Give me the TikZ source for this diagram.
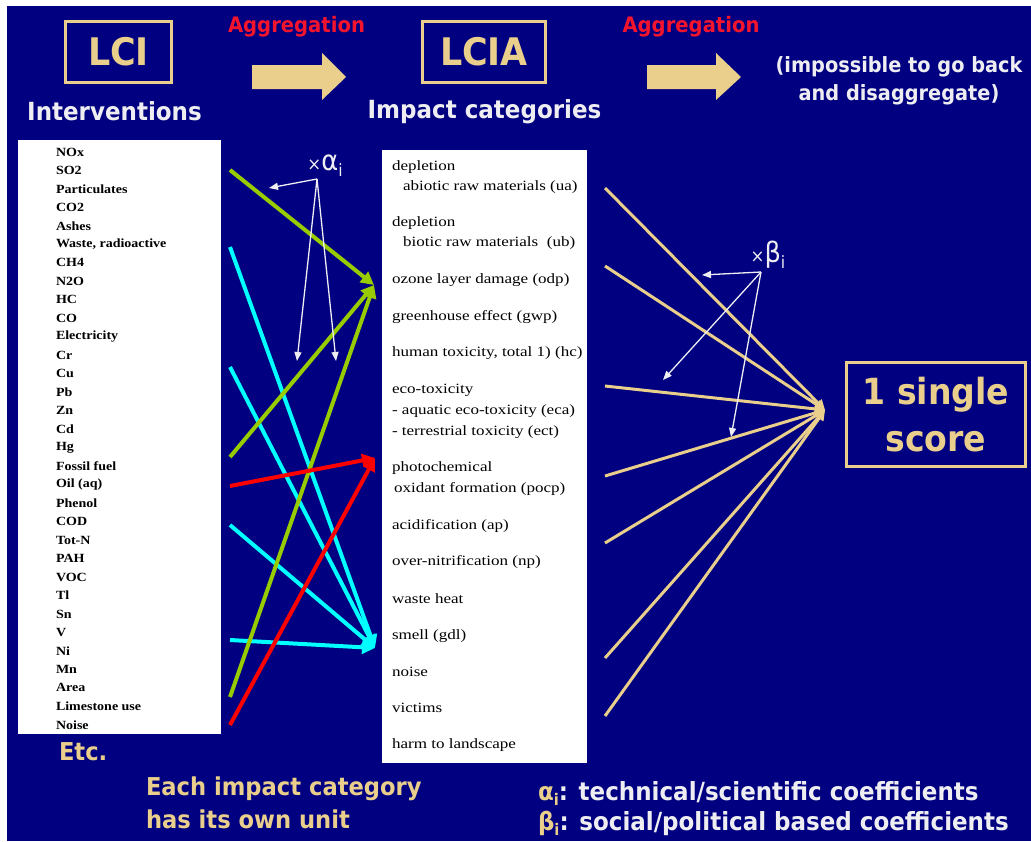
\documentclass[tikz,border=0pt]{standalone}
\usepackage{fontspec}
\usetikzlibrary{arrows.meta}
\setmainfont{Liberation Serif}
\newfontfamily\tah{DejaVu Sans}[FakeStretch=0.92]
\newfontfamily\scanb{Liberation Serif}[FakeStretch=1.12]
\newfontfamily\scanr{Liberation Serif}[FakeStretch=1.2]
\definecolor{navy}{HTML}{000080}
\definecolor{gold}{HTML}{E9CF8B}
\definecolor{wtext}{HTML}{EEEEF2}
\definecolor{redtxt}{HTML}{F5142D}
\definecolor{lgreen}{HTML}{99CC00}
\definecolor{lcyan}{HTML}{00FFFF}
\definecolor{lred}{HTML}{FF0000}
\newcommand{\fsz}[1]{\fontsize{#1}{#1}\selectfont}
\begin{document}
\begin{tikzpicture}[x=1pt,y=-1pt,
  every node/.style={inner sep=0pt,outer sep=0pt},
  headtxt/.style={font=\tah\bfseries\fsz{25},text=wtext},
  aggtxt/.style={font=\tah\bfseries\fsz{21.3},text=redtxt},
  goldbox/.style={draw=gold,line width=3pt,text=gold,font=\tah\bfseries\fsz{38}},
  blockarrow/.style={fill=gold},
  paper/.style={fill=white,anchor=north west},
  lciitem/.style={anchor=west,font=\scanb\bfseries\fsz{12.5},text=black},
  lciaitem/.style={anchor=west,font=\scanr\fsz{14.2},text=black},
  flow/.style={line width=4pt,-{Triangle[length=13pt,width=13pt]}},
  pointer/.style={draw=wtext,line width=1.3pt,-{Triangle[length=9pt,width=7pt]}},
  weight/.style={draw=gold,line width=3pt,-{Triangle[length=10pt,width=10pt]}},
  goldtxt/.style={font=\tah\bfseries\fsz{24.6},text=gold,anchor=west},
  notetxt/.style={font=\tah\bfseries\fsz{25},text=wtext,anchor=west}
]
\useasboundingbox (0,0) rectangle (1031,841);
\fill[white] (0,0) rectangle (1031,841);
\fill[navy] (7,6) rectangle (1031,841);

% headers
\node[goldbox,minimum width=106pt,minimum height=61pt] (lci) at (118.5,52) {LCI};
\node[goldbox,minimum width=123pt,minimum height=61pt] (lcia) at (484,52) {LCIA};
\node[headtxt] (interv) at (114.5,111) {Interventions};
\node[headtxt] (impcat) at (484.5,112) {Impact categories};
\node[aggtxt] (agg1) at (296.5,27) {Aggregation};
\node[aggtxt] (agg2) at (691,27) {Aggregation};
\fill[blockarrow] (252,65) -- (322,65) -- (322,53) -- (346,77) -- (322,100) -- (322,89) -- (252,89) -- cycle;
\fill[blockarrow] (647,65) -- (716,65) -- (716,53) -- (741,77) -- (716,100) -- (716,89) -- (647,89) -- cycle;
\node[font=\tah\bfseries\fontsize{21}{28}\selectfont,text=wtext,align=center] (imposs) at (899,81) {(impossible to go back\\and disaggregate)};

% interventions list
\node[paper,minimum width=203pt,minimum height=594pt] (lcilist) at (18,140) {};
\foreach \t [count=\k from 0] in {NOx,SO2,Particulates,CO2,Ashes,{Waste, radioactive},CH4,N2O,HC,CO,Electricity,Cr,Cu,Pb,Zn,Cd,Hg,Fossil fuel,Oil (aq),Phenol,COD,Tot-N,PAH,VOC,Tl,Sn,V,Ni,Mn,Area,Limestone use,Noise}
  \node[lciitem] (li\k) at (56,152+18.48*\k) {\t};
\node[goldtxt] (etc) at (59,752) {Etc.};

% impact categories list
\node[paper,minimum width=205pt,minimum height=613pt] (lcialist) at (382,150) {};
\node[lciaitem] (m1) at (392,167) {depletion};
\node[lciaitem] (m2) at (403,187) {abiotic raw materials (ua)};
\node[lciaitem] (m3) at (392,223) {depletion};
\node[lciaitem] (m4) at (403,243) {biotic raw materials\ \ (ub)};
\node[lciaitem] (m5) at (392,280) {ozone layer damage (odp)};
\node[lciaitem] (m6) at (392,317) {greenhouse effect (gwp)};
\node[lciaitem] (m7) at (392,353) {human toxicity, total 1) (hc)};
\node[lciaitem] (m8) at (392,390) {eco-toxicity};
\node[lciaitem] (m9) at (392,411) {- aquatic eco-toxicity (eca)};
\node[lciaitem] (m10) at (392,432) {- terrestrial toxicity (ect)};
\node[lciaitem] (m11) at (392,468) {photochemical};
\node[lciaitem] (m12) at (394,489) {oxidant formation (pocp)};
\node[lciaitem] (m13) at (392,526) {acidification (ap)};
\node[lciaitem] (m14) at (392,562) {over-nitrification (np)};
\node[lciaitem] (m15) at (392,599) {waste heat};
\node[lciaitem] (m16) at (392,636) {smell (gdl)};
\node[lciaitem] (m17) at (392,672) {noise};
\node[lciaitem] (m18) at (392,708) {victims};
\node[lciaitem] (m19) at (392,745) {harm to landscape};

% characterisation connectors
\coordinate (g1) at (230,170);
\coordinate (g2) at (230,457);
\coordinate (g3) at (230,697);
\coordinate (gt) at (374,285);
\coordinate (c1) at (230,247);
\coordinate (c2) at (230,367);
\coordinate (c3) at (230,525);
\coordinate (c4) at (230,640);
\coordinate (ct) at (375,648);
\coordinate (r1) at (230,486);
\coordinate (r2) at (230,725);
\coordinate (rt) at (375,458);
\draw[flow,lcyan] (c1) -- (ct);
\draw[flow,lcyan] (c2) -- (ct);
\draw[flow,lgreen] (g1) -- (gt);
\draw[flow,lgreen] (g2) -- (gt);
\draw[flow,lcyan] (c3) -- (ct);
\draw[flow,lcyan] (c4) -- (ct);
\draw[flow,lgreen] (g3) -- (gt);
\draw[flow,lred] (r1) -- (rt);
\draw[flow,lred] (r2) -- (rt);

% alpha pointer
\node[text=wtext,font=\tah] (alab) at (325,166) {{\fsz{18}×}{\fsz{28}α}\raisebox{-6pt}{\fsz{17}i}};
\coordinate (ao) at (317,179);
\coordinate (a1) at (269,188);
\coordinate (a2) at (297,361);
\coordinate (a3) at (336,361);
\draw[pointer] (ao) -- (a1);
\draw[pointer] (ao) -- (a2);
\draw[pointer] (ao) -- (a3);

% weighting connectors
\coordinate (st) at (825,410);
\foreach \y [count=\k] in {188,266,386,476,543,658,716}{
  \coordinate (s\k) at (605,\y);
  \draw[weight] (s\k) -- (st);
}
\node[text=wtext,font=\tah] (blab) at (768,255) {{\fsz{18}×}{\fsz{28}β}\raisebox{-6pt}{\fsz{17}i}};
\coordinate (bo) at (761,272);
\coordinate (b1) at (702,275);
\coordinate (b2) at (663,380);
\coordinate (b3) at (731,437);
\draw[pointer] (bo) -- (b1);
\draw[pointer] (bo) -- (b2);
\draw[pointer] (bo) -- (b3);

\node[goldbox,font=\tah\bfseries\fontsize{36}{47}\selectfont,align=center,minimum width=179pt,minimum height=104pt] (score) at (936,414.5) {1 single\\score};

% footnotes
\node[goldtxt] (unit1) at (146,789) {Each impact category};
\node[goldtxt] (unit2) at (146,819) {has its own unit};
\node[notetxt] (alpha) at (538,793) {{\color{gold}α\raisebox{-5pt}{\fsz{16}i}}: technical/scientific coefficients};
\node[notetxt] (beta) at (538,823) {{\color{gold}β\raisebox{-5pt}{\fsz{16}i}}: social/political based coefficients};
\end{tikzpicture}
\end{document}
